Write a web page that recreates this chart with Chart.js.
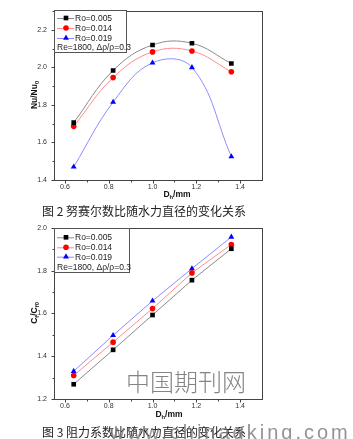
<!DOCTYPE html>
<html><head><meta charset="utf-8">
<script src="https://cdn.jsdelivr.net/npm/chart.js@4"></script>
<style>
body{margin:0;background:#fff;width:353px;height:439px;overflow:hidden;position:relative;font-family:"Noto Sans CJK SC",sans-serif}
canvas{position:absolute;left:0}
.cap{position:absolute;left:42px;font-size:12px;line-height:16px;color:#222;white-space:nowrap}
.wm1{position:absolute;left:126px;top:365px;font-size:24px;line-height:32px;color:rgba(110,110,110,0.85);white-space:nowrap;font-family:"Noto Sans CJK SC",serif;font-weight:300}
.wm2{position:absolute;left:110px;top:420px;font-size:20px;line-height:24px;letter-spacing:3px;color:rgba(120,120,120,0.8);white-space:nowrap;font-family:"Liberation Sans",Arial,sans-serif}
</style></head><body>
<canvas id="c1" width="353" height="200" style="top:0px"></canvas>
<canvas id="c2" width="353" height="225" style="top:200px"></canvas>
<div class="cap" style="top:203px">图 2 努赛尔数比随水力直径的变化关系</div>
<div class="cap" style="top:424px">图 3 阻力系数比随水力直径的变化关系</div>
<div class="wm1">中国期刊网</div>
<div class="wm2">www.chinaqking.com</div>
<script>
// ---- data ----
const diameters = [0.64, 0.82, 1.0, 1.18, 1.36];
const seriesNames = ['Ro=0.005', 'Ro=0.014', 'Ro=0.019'];
const nuRo005 = [1.706, 1.984, 2.120, 2.129, 2.021];
const nuRo014 = [1.686, 1.946, 2.083, 2.088, 1.977];
const nuRo019 = [1.470, 1.815, 2.025, 2.000, 1.525];
const cfRo005 = [1.269, 1.430, 1.593, 1.756, 1.903];
const cfRo014 = [1.310, 1.466, 1.623, 1.790, 1.923];
const cfRo019 = [1.330, 1.498, 1.659, 1.810, 1.958];
const xTickLabels = ['0.6', '0.8', '1.0', '1.2', '1.4'];
const xMinorTicks = ['0.7', '0.9', '1.1', '1.3'];
const nuTickLabels = ['1.4', '1.6', '1.8', '2.0', '2.2'];
const nuMinorTicks = ['1.5', '1.7', '1.9', '2.1', '2.3'];
const cfTickLabels = ['1.2', '1.4', '1.6', '1.8', '2.0'];
const cfMinorTicks = ['1.3', '1.5', '1.7', '1.9'];
const noteText = 'Re=1800, Δρ/ρ=0.3';

const markerStyles = ['rect', 'circle', 'triangle'];
const markerColors = ['#000000', '#ff0000', '#0000ff'];
const lineColors = ['#8a8a8a', '#ff8c8c', '#8c8cff'];
const markerRadius = [3.3, 2.8, 3.4];

function makeDatasets(arrs, tension) {
  return arrs.map((vals, i) => ({
    label: seriesNames[i],
    data: diameters.map((d, j) => ({x: d, y: vals[j]})),
    borderColor: lineColors[i],
    borderWidth: 1,
    backgroundColor: markerColors[i],
    pointBackgroundColor: markerColors[i],
    pointBorderColor: markerColors[i],
    pointBorderWidth: 0,
    pointStyle: markerStyles[i],
    pointRadius: markerRadius[i],
    tension: tension,
    fill: false
  }));
}

function drawMarker(ctx, style, r, x, y, color) {
  ctx.save();
  ctx.fillStyle = color;
  ctx.beginPath();
  if (style === 'rect') {
    const s = Math.SQRT1_2 * r;
    ctx.rect(x - s, y - s, 2 * s, 2 * s);
  } else if (style === 'circle') {
    ctx.arc(x, y, r, 0, Math.PI * 2);
  } else {
    ctx.moveTo(x, y - r);
    ctx.lineTo(x + r * 0.866, y + r * 0.5);
    ctx.lineTo(x - r * 0.866, y + r * 0.5);
    ctx.closePath();
  }
  ctx.fill();
  ctx.restore();
}

function drawSegs(ctx, segs, x, y, size) {
  ctx.save();
  const fMain = 'bold ' + size + 'px "Liberation Sans", Arial, sans-serif';
  const fSub = 'bold ' + (size * 0.68) + 'px "Liberation Sans", Arial, sans-serif';
  let total = 0;
  segs.forEach(s => { ctx.font = s[1] ? fSub : fMain; total += ctx.measureText(s[0]).width; });
  let cx = x - total / 2;
  ctx.textBaseline = 'middle';
  ctx.textAlign = 'left';
  ctx.fillStyle = '#111';
  segs.forEach(s => {
    ctx.font = s[1] ? fSub : fMain;
    ctx.fillText(s[0], cx, y + (s[1] ? size * 0.28 : 0));
    cx += ctx.measureText(s[0]).width;
  });
  ctx.restore();
}

const decoPlugin = {
  id: 'deco',
  afterDraw(chart, args, o) {
    const ctx = chart.ctx;
    const a = chart.chartArea;
    const xs = chart.scales.x, ys = chart.scales.y;
    ctx.save();
    ctx.strokeStyle = '#444';
    ctx.lineWidth = 1;
    ctx.strokeRect(Math.round(a.left) + 0.5, Math.round(a.top) + 0.5, Math.round(a.right - a.left), Math.round(a.bottom - a.top));
    ctx.beginPath();
    const by = Math.round(a.bottom) + 0.5, lx = Math.round(a.left) + 0.5;
    xTickLabels.forEach(t => { const px = Math.round(xs.getPixelForValue(parseFloat(t))) + 0.5; ctx.moveTo(px, by); ctx.lineTo(px, by + 3); });
    xMinorTicks.forEach(t => { const px = Math.round(xs.getPixelForValue(parseFloat(t))) + 0.5; ctx.moveTo(px, by); ctx.lineTo(px, by + 2); });
    o.yMajor.forEach(t => { const py = Math.round(ys.getPixelForValue(parseFloat(t))) + 0.5; ctx.moveTo(lx, py); ctx.lineTo(lx - 3, py); });
    o.yMinor.forEach(t => { const py = Math.round(ys.getPixelForValue(parseFloat(t))) + 0.5; ctx.moveTo(lx, py); ctx.lineTo(lx - 2, py); });
    ctx.stroke();
    const L = o.legend;
    ctx.fillStyle = '#fff';
    ctx.fillRect(L.x1, L.y1, L.x2 - L.x1, L.y2 - L.y1);
    ctx.strokeStyle = '#555';
    ctx.strokeRect(L.x1 + 0.5, L.y1 + 0.5, L.x2 - L.x1, L.y2 - L.y1);
    ctx.font = '8.5px "Liberation Sans", Arial, sans-serif';
    ctx.textBaseline = 'middle';
    ctx.textAlign = 'left';
    chart.data.datasets.forEach((ds, i) => {
      const yy = L.rows[i];
      ctx.strokeStyle = ds.borderColor;
      ctx.beginPath();
      ctx.moveTo(L.x1 + 3, yy + 0.5);
      ctx.lineTo(L.x1 + 20, yy + 0.5);
      ctx.stroke();
      drawMarker(ctx, ds.pointStyle, ds.pointRadius, L.x1 + 12, yy, ds.pointBackgroundColor);
      ctx.fillStyle = '#222';
      ctx.fillText(ds.label, L.textX, yy + 0.5);
    });
    ctx.fillStyle = '#222';
    ctx.fillText(noteText, L.x1 + 3, L.rows[3]);
    ctx.restore();
    drawSegs(ctx, [['D', false], ['h', true], ['/mm', false]], o.xTitle[0], o.xTitle[1], 8.5);
    ctx.save();
    ctx.translate(o.yTitle[0], o.yTitle[1]);
    ctx.rotate(-Math.PI / 2);
    drawSegs(ctx, o.yTitleSegs, 0, 0, 8.5);
    ctx.restore();
  }
};

function makeChart(id, arrs, tension, yMin, yMax, yTicks, yMinor, padTop, chartBottom, canvasH, deco) {
  return new Chart(document.getElementById(id), {
    type: 'line',
    data: {datasets: makeDatasets(arrs, tension)},
    options: {
      responsive: false,
      animation: false,
      devicePixelRatio: 1,
      layout: {padding: {left: 0, top: padTop, right: 91, bottom: 0}},
      plugins: {legend: {display: false}, tooltip: {enabled: false}, deco: deco},
      scales: {
        x: {
          type: 'linear', min: 0.55, max: 1.5,
          afterBuildTicks: s => { s.ticks = xTickLabels.map(t => ({value: parseFloat(t)})); },
          ticks: {font: {size: 7, family: '"Liberation Sans", Arial'}, color: '#333', padding: 3, maxRotation: 0, autoSkip: false,
                  callback: v => v.toFixed(1)},
          grid: {display: false, drawTicks: false}, border: {display: false},
          afterFit: s => { s.height = canvasH - chartBottom; }
        },
        y: {
          type: 'linear', min: yMin, max: yMax,
          afterBuildTicks: s => { s.ticks = yTicks.map(t => ({value: parseFloat(t)})); },
          ticks: {font: {size: 7, family: '"Liberation Sans", Arial'}, color: '#333', padding: 7, autoSkip: false,
                  callback: v => v.toFixed(1)},
          grid: {display: false, drawTicks: false}, border: {display: false},
          afterFit: s => { s.width = 54; }
        }
      }
    },
    plugins: [decoPlugin]
  });
}

makeChart('c1', [nuRo005, nuRo014, nuRo019], 0.4, 1.4, 2.3, nuTickLabels, nuMinorTicks, 10, 180, 200, {
  yMajor: nuTickLabels, yMinor: nuMinorTicks,
  legend: {x1: 54, y1: 10, x2: 126, y2: 52, rows: [18, 28, 38, 48], textX: 75},
  xTitle: [177, 195], yTitle: [35, 95],
  yTitleSegs: [['Nu/Nu', false], ['0', true]]
});

makeChart('c2', [cfRo005, cfRo014, cfRo019], 0, 1.2, 2.0, cfTickLabels, cfMinorTicks, 28, 199, 225, {
  yMajor: cfTickLabels, yMinor: cfMinorTicks,
  legend: {x1: 54, y1: 28, x2: 129, y2: 72, rows: [37.3, 47.3, 56.7, 67.3], textX: 75},
  xTitle: [169, 215], yTitle: [35, 113],
  yTitleSegs: [['C', false], ['f', true], ['/C', false], ['f0', true]]
});
</script>
</body></html>
